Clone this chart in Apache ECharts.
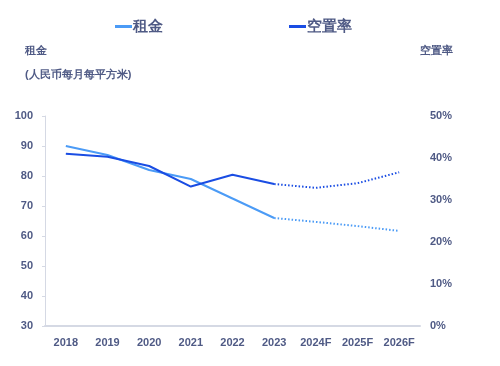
<!DOCTYPE html>
<html><head><meta charset="utf-8">
<script src="https://cdn.jsdelivr.net/npm/echarts@6/dist/echarts.min.js"></script>
<style>html,body{margin:0;padding:0;background:#fff}#c{width:500px;height:366px}</style>
</head><body><div id="c"></div>
<script>
const categories = ['2018','2019','2020','2021','2022','2023','2024F','2025F','2026F'];
const rentActual = [90, 87, 82, 79, 72.5, 66, null, null, null];
const rentForecast = [null, null, null, null, null, 66, 64.7, 63.3, 61.7];
const vacancyActual = [41.0, 40.3, 38.1, 33.2, 36.0, 33.8, null, null, null];
const vacancyForecast = [null, null, null, null, null, 33.8, 32.9, 34.0, 36.6];
const leftTicks = {min: 30, max: 100, interval: 10};
const rightTicks = {min: 0, max: 50, interval: 10};

const rentColor = '#4b9bf6';
const vacColor = '#1a4de3';
const txt = '#4f5a85';
const chart = echarts.init(document.getElementById('c'));
chart.setOption({
  animation: false,
  grid: {left: 45, right: 80, top: 116, bottom: 40},
  legend: {
    left: 110, top: 14, itemGap: 126, itemWidth: 17, itemHeight: 3, icon: 'rect',
    data: ['租金', '空置率'],
    textStyle: {color: txt, fontSize: 15, fontWeight: 'bold', padding: [0,0,0,-4]}
  },
  graphic: [
    {type: 'text', left: 25, top: 45, style: {text: '租金', fill: txt, fontSize: 11, fontWeight: 'bold'}},
    {type: 'text', left: 25, top: 69, style: {text: '(人民币每月每平方米)', fill: txt, fontSize: 11, fontWeight: 'bold'}},
    {type: 'text', left: 420, top: 45, style: {text: '空置率', fill: txt, fontSize: 11, fontWeight: 'bold'}}
  ],
  xAxis: {
    type: 'category', data: categories, boundaryGap: true,
    axisLine: {lineStyle: {color: '#d5d9e4', width: 2}},
    axisTick: {show: false},
    axisLabel: {color: txt, fontWeight: 'bold', fontSize: 11, margin: 11}
  },
  yAxis: [
    {type: 'value', min: leftTicks.min, max: leftTicks.max, interval: leftTicks.interval,
     axisLine: {show: true, lineStyle: {color: '#d5d9e4'}},
     axisTick: {show: true, length: 3, lineStyle: {color: '#d5d9e4'}},
     splitLine: {show: false},
     axisLabel: {color: txt, fontWeight: 'bold', fontSize: 11, margin: 12}},
    {type: 'value', min: rightTicks.min, max: rightTicks.max, interval: rightTicks.interval,
     position: 'right',
     axisLine: {show: false}, axisTick: {show: false}, splitLine: {show: false},
     axisLabel: {color: txt, fontWeight: 'bold', fontSize: 11, margin: 10, formatter: '{value}%'}}
  ],
  series: [
    {name: '租金', type: 'line', data: rentActual, yAxisIndex: 0, showSymbol: false, symbol: 'none',
     lineStyle: {color: rentColor, width: 2}, itemStyle: {color: rentColor}},
    {name: '租金', type: 'line', data: rentForecast, yAxisIndex: 0, showSymbol: false, symbol: 'none',
     lineStyle: {color: rentColor, width: 2, type: [1.5, 2]}, itemStyle: {color: rentColor}},
    {name: '空置率', type: 'line', data: vacancyActual, yAxisIndex: 1, showSymbol: false, symbol: 'none',
     lineStyle: {color: vacColor, width: 2}, itemStyle: {color: vacColor}},
    {name: '空置率', type: 'line', data: vacancyForecast, yAxisIndex: 1, showSymbol: false, symbol: 'none',
     lineStyle: {color: vacColor, width: 2, type: [1.5, 2]}, itemStyle: {color: vacColor}}
  ]
});
</script></body></html>
